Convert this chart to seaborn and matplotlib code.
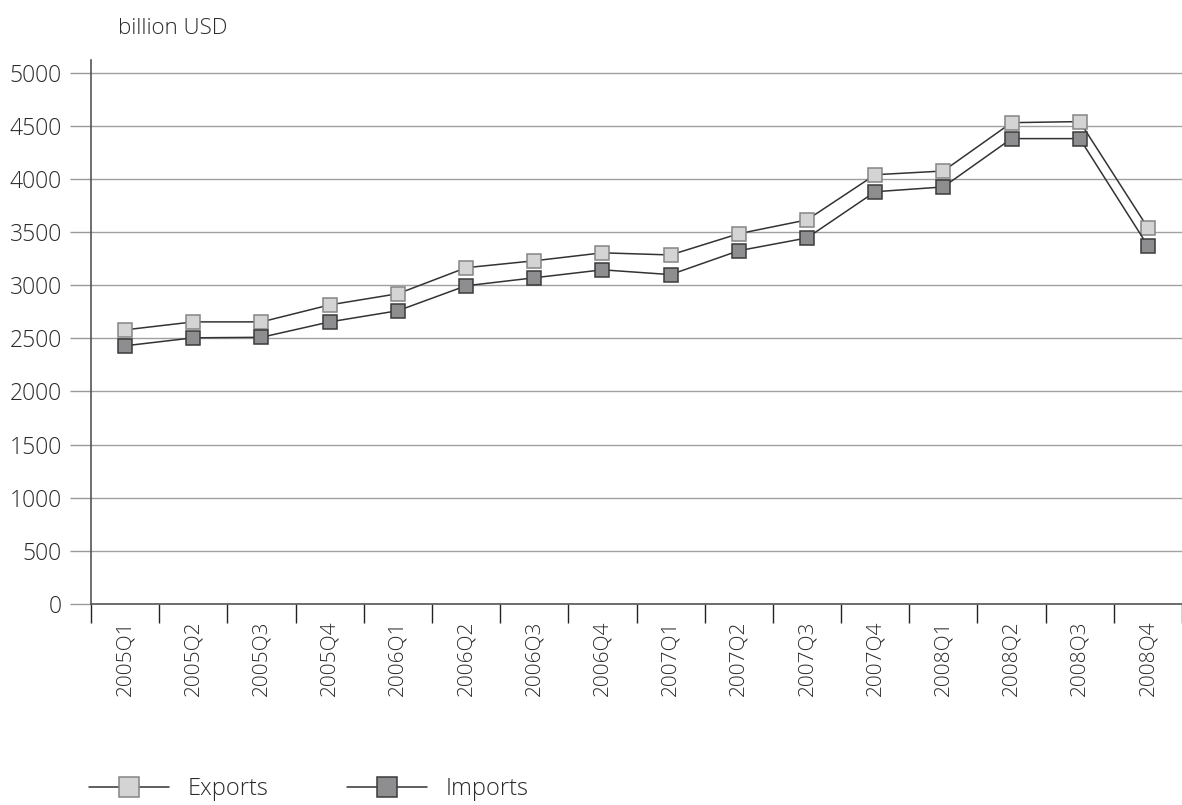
import matplotlib
matplotlib.use("Agg")
import matplotlib.pyplot as plt
from matplotlib.ticker import FixedLocator
import numpy as np
import pandas as pd
import seaborn as sns

quarters = ["2005Q1", "2005Q2", "2005Q3", "2005Q4",
            "2006Q1", "2006Q2", "2006Q3", "2006Q4",
            "2007Q1", "2007Q2", "2007Q3", "2007Q4",
            "2008Q1", "2008Q2", "2008Q3", "2008Q4"]
exports = [2580, 2655, 2655, 2815, 2920, 3165, 3230, 3305,
           3285, 3485, 3615, 4040, 4075, 4530, 4540, 3540]
imports = [2430, 2505, 2510, 2655, 2760, 2995, 3070, 3145,
           3100, 3325, 3445, 3880, 3925, 4380, 4380, 3370]
y_ticks = list(range(0, 5001, 500))

sns.set_theme(style="white")
plt.rcParams["font.family"] = ["Open Sans", "DejaVu Sans"]
plt.rcParams["font.weight"] = "light"

df = pd.DataFrame({
    "quarter": quarters * 2,
    "value": exports + imports,
    "series": ["Exports"] * len(quarters) + ["Imports"] * len(quarters),
})
df["pos"] = np.tile(np.arange(len(quarters)), 2)

fig = plt.figure(figsize=(11.82, 8.05), dpi=100)
ax = fig.add_axes([0.077, 0.2497, 0.923, 0.6758])

styles = {
    "Exports": dict(face="#d4d4d4", edge="#858585"),
    "Imports": dict(face="#8e8e90", edge="#3a3a3a"),
}
for name, st in styles.items():
    sub = df[df["series"] == name]
    sns.lineplot(data=sub, x="pos", y="value", ax=ax, color="#333333",
                 linewidth=1.1, marker="s", markersize=9.7,
                 markerfacecolor=st["face"], markeredgecolor=st["edge"],
                 markeredgewidth=1.1, label=name, legend=False, zorder=3)

ax.set_xlim(-0.5, len(quarters) - 0.5)
ax.set_ylim(0, 5120)
ax.yaxis.set_major_locator(FixedLocator(y_ticks))
ax.set_yticklabels([str(v) for v in y_ticks])
ax.set_xticks(np.arange(len(quarters)))
ax.set_xticklabels(quarters, rotation=90)
ax.set_xticks(np.arange(-0.5, len(quarters), 1), minor=True)
ax.tick_params(axis="x", which="major", length=0, pad=12, labelsize=15,
               labelcolor="#2a2a2a")
ax.tick_params(axis="x", which="minor", length=14, width=1.0,
               color="#222222", direction="out", bottom=True)
ax.tick_params(axis="y", length=15, width=1.0, color="#999999",
               direction="out", left=True, pad=6, labelsize=16.5,
               labelcolor="#2a2a2a")
ax.grid(axis="y", color="#a0a0a0", linewidth=1.0)
ax.set_axisbelow(True)
ax.set_xlabel("")
ax.set_ylabel("")

for side in ["top", "right"]:
    ax.spines[side].set_visible(False)
for side in ["left", "bottom"]:
    ax.spines[side].set_color("#555555")
    ax.spines[side].set_linewidth(1.2)

fig.text(0.1, 0.965, "billion USD", fontsize=16, color="#2a2a2a",
         ha="left", va="center")

handles, labels = ax.get_legend_handles_labels()
leg = fig.legend(handles, labels, loc="lower left",
                 bbox_to_anchor=(0.057, -0.022), ncol=2, frameon=False,
                 fontsize=17, handlelength=3.4, columnspacing=3.3,
                 handletextpad=0.8, labelcolor="#2a2a2a")
for h in leg.legend_handles:
    h.set_markersize(15)

fig.savefig("out.png", dpi=100)
